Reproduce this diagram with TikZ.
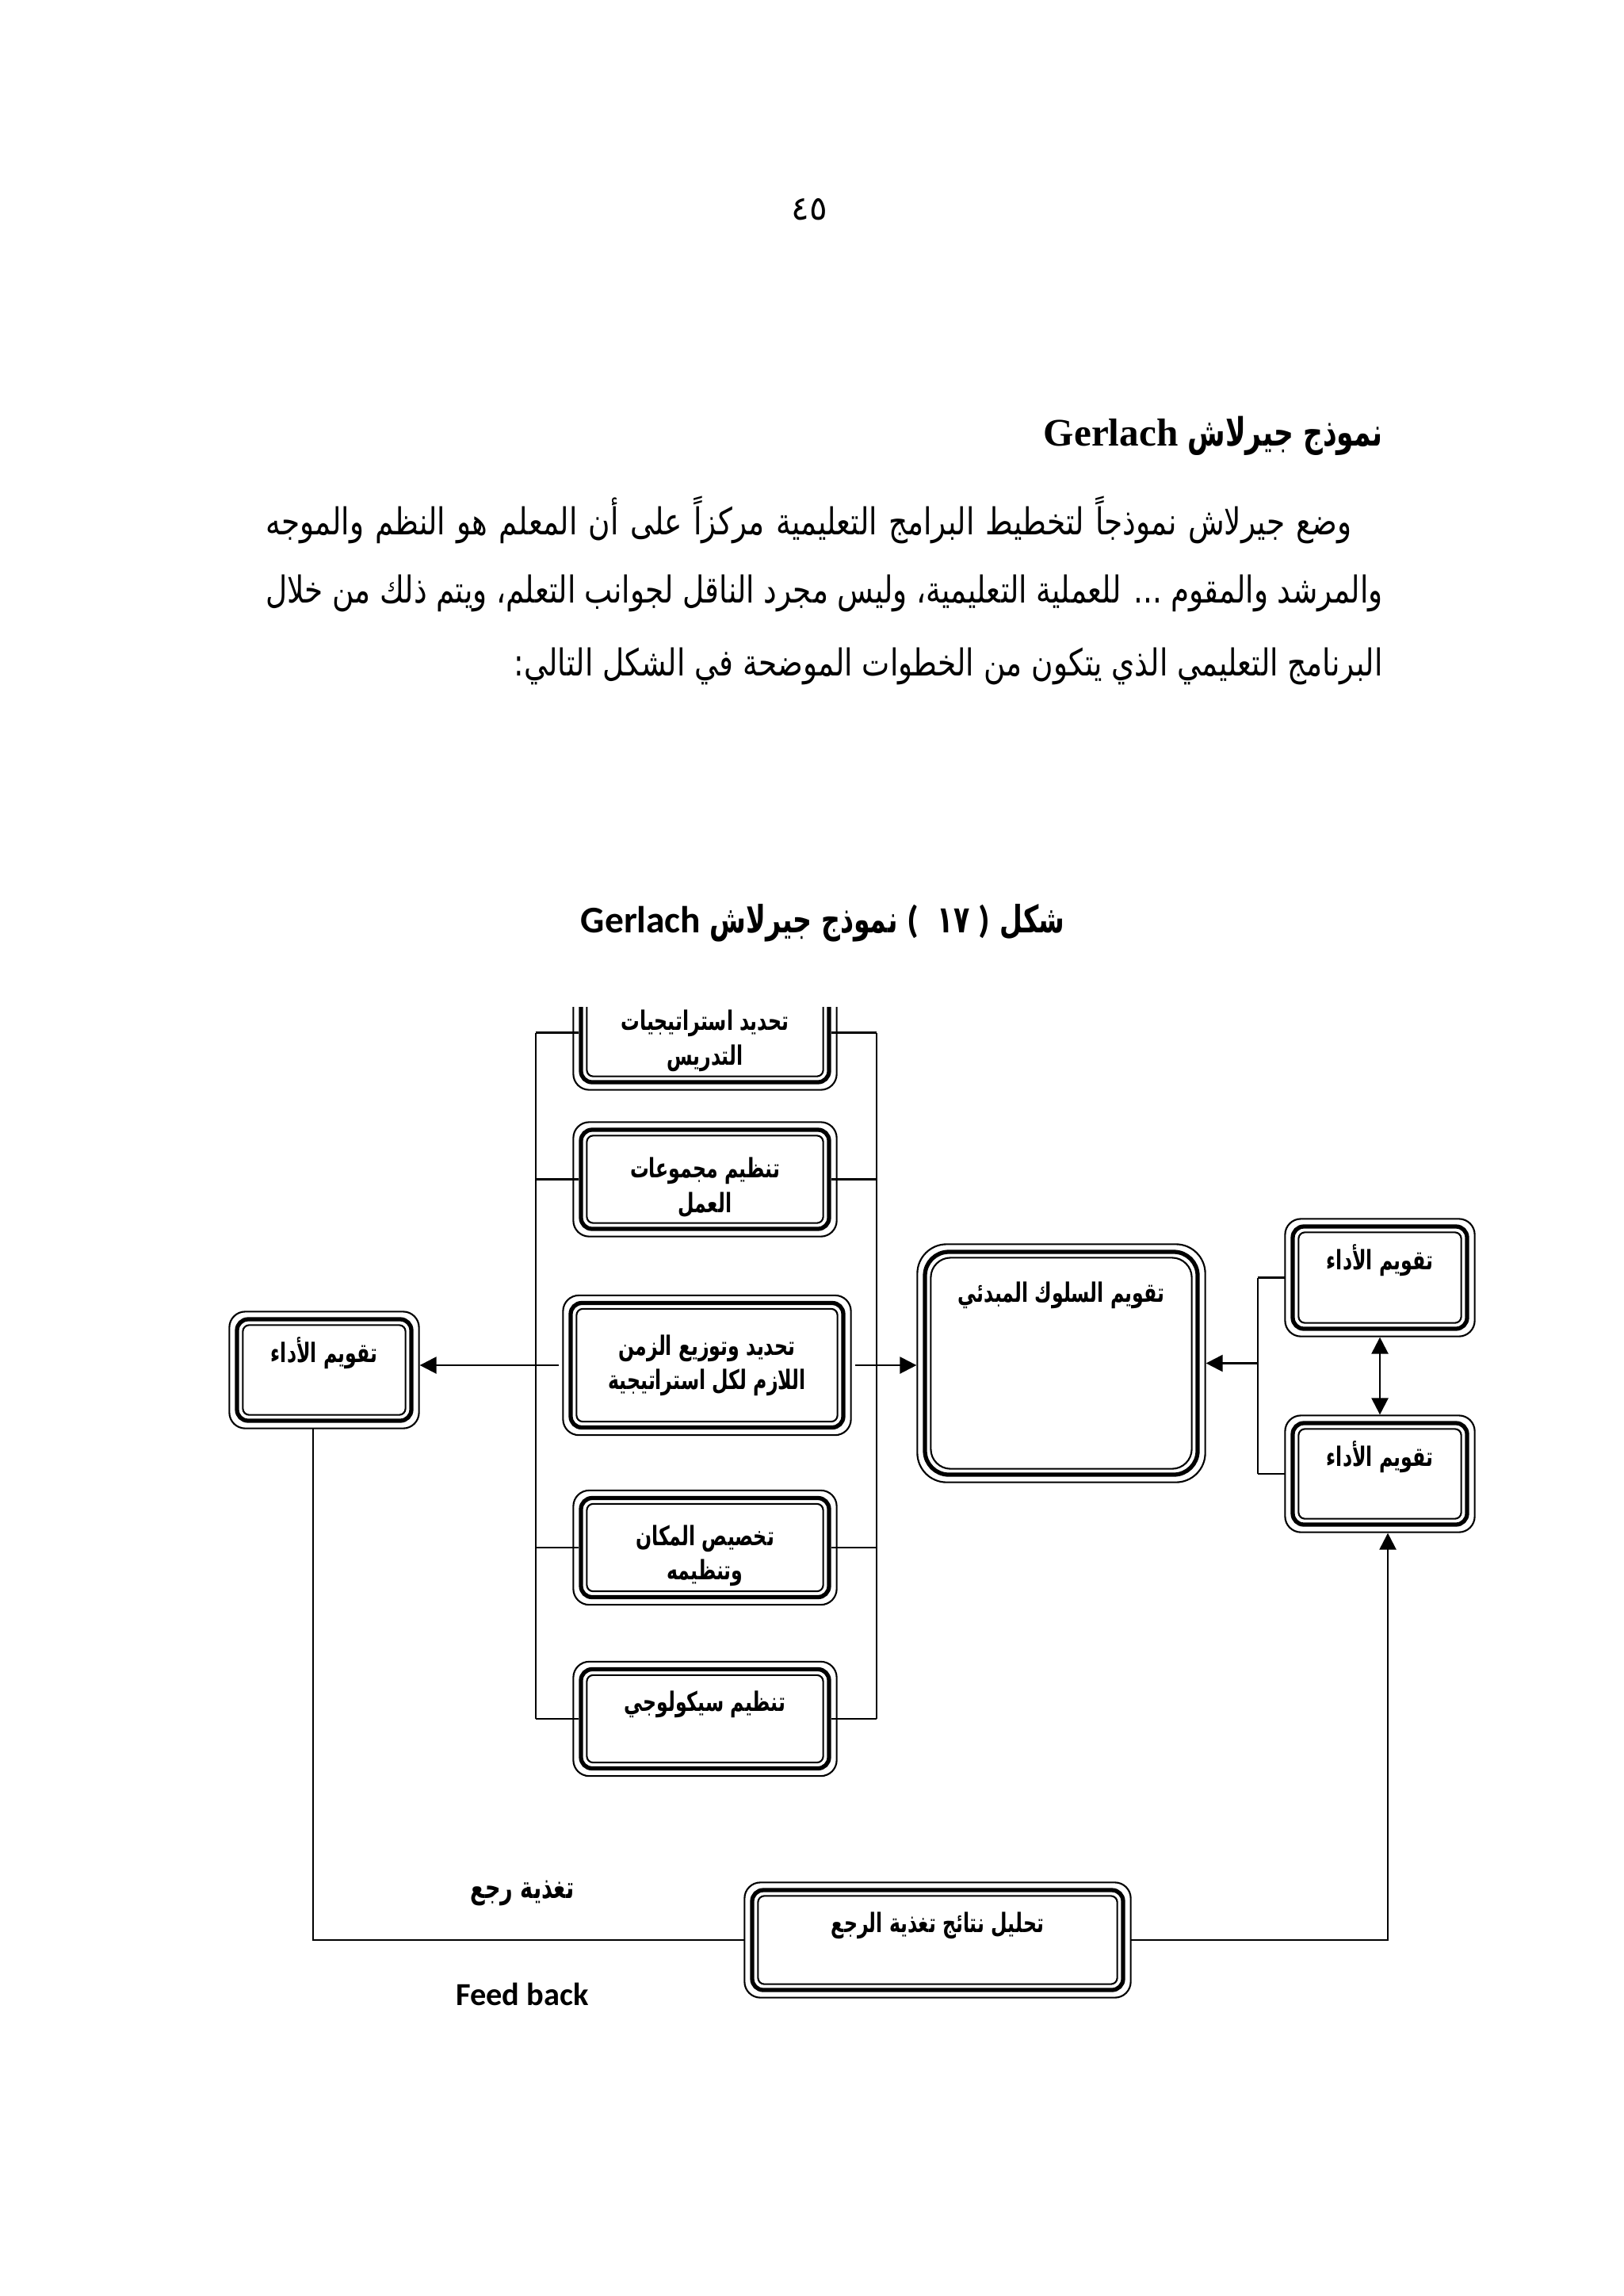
\documentclass[tikz,border=0pt]{standalone}
\usepackage{fontspec}
\usetikzlibrary{arrows.meta,positioning}
\setmainfont{Liberation Serif}
\newfontfamily\arabicfont[Script=Arabic]{DejaVu Sans}
\newfontfamily\arabicnarrow[Script=Arabic,FakeStretch=0.8]{DejaVu Sans}
\newfontfamily\arabiccond[Script=Arabic,FakeStretch=0.7]{DejaVu Sans}
\newfontfamily\calfont{Carlito}
\TeXXeTstate=1
\newcommand{\arb}[1]{\beginR #1\endR}
\newcommand{\lowstrut}{\rule{0pt}{0.46cm}}

\tikzset{
	stage/.style={draw, line width=1.5pt, rounded corners=0.14cm, inner sep=0pt,
		align=center, font=\arabiccond\bfseries\fontsize{9.6}{12.3}\selectfont},
	oneline/.style={text height=0.35cm, text depth=0.55cm},
	link/.style={line width=0.7pt},
	arr/.style={link, -{Triangle[length=6pt,width=6pt]}},
	arrboth/.style={link, {Triangle[length=6pt,width=6pt]}-{Triangle[length=6pt,width=6pt]}},
	para/.style={inner sep=0pt, font=\arabicnarrow\fontsize{13.3}{16}\selectfont},
}

\begin{document}
\begin{tikzpicture}
	\fill[white] (0,0) rectangle (20.48,-28.96);
	\useasboundingbox (0,0) rectangle (20.48,-28.96);
	%%%%%%%%%%%%%%%%% page text %%%%%%%%%%%%%%%%%%%
	\node[inner sep=0pt, font=\arabicfont\fontsize{12}{14}\selectfont] (pg) at (10.21,-2.64) {٤٥};
	\node[anchor=east, inner sep=0pt, font=\bfseries\fontsize{14}{17}\selectfont] (head) at (17.45,-5.50)
	{\beginR{\arabiccond نموذج جيرلاش} \beginL Gerlach\endL\endR};
	
	\node[para, anchor=east] (l1) at (17.06,-6.56) {\makebox[13.70cm][s]{\arb{وضع جيرلاش نموذجاً لتخطيط البرامج التعليمية مركزاً على أن المعلم هو النظم والموجه}}};
	\node[para, anchor=east] (l2) at (17.45,-7.48) {\makebox[14.09cm][s]{\arb{والمرشد والمقوم ... للعملية التعليمية، وليس مجرد الناقل لجوانب التعلم، ويتم ذلك من خلال}}};
	\node[para, anchor=east] (l3) at (17.45,-8.40) {\arb{البرنامج التعليمي الذي يتكون من الخطوات الموضحة في الشكل التالي:}};
	
	\node[inner sep=0pt, font=\bfseries\fontsize{13.5}{17}\selectfont] (cap) at (10.38,-11.64)
	{\beginR{\arabiccond شكل} \beginL{\calfont (}\ \ \arb{\arabiccond ١٧}\ {\calfont )}\endL{} \arb{\arabiccond نموذج جيرلاش} \beginL{\calfont Gerlach}\endL\endR};
	
	%%%%%%%%%%%%%%%%% stages %%%%%%%%%%%%%%%%%%%%%%
	% first stage is cut at its top
	\begin{scope}
		\clip (6.5,-12.70) rectangle (11.5,-14.2);
		\node[stage, minimum width=3.13cm, minimum height=1.25cm] (b1) at (8.895,-13.025)
		{\lowstrut\arb{تحديد استراتيجيات}\\ \arb{التدريس}};
		\draw[line width=0.6pt, rounded corners=0.2cm] ([shift={(-0.07,-0.07)}]b1.south west) rectangle ([shift={(0.07,0.07)}]b1.north east);
		\draw[line width=0.6pt, rounded corners=0.08cm] ([shift={(0.1,0.1)}]b1.south west) rectangle ([shift={(-0.1,-0.1)}]b1.north east);
	\end{scope}
	
	\node[stage, minimum width=3.13cm, minimum height=1.25cm] (b2) at (8.895,-14.875)
	{\lowstrut\arb{تنظيم مجموعات}\\ \arb{العمل}};
	\node[stage, minimum width=3.44cm, minimum height=1.57cm] (b3) at (8.92,-17.22)
	{\arb{تحديد وتوزيع الزمن}\\ \arb{اللازم لكل استراتيجية}};
	\node[stage, minimum width=3.13cm, minimum height=1.25cm] (b4) at (8.895,-19.52)
	{\lowstrut\arb{تخصيص المكان}\\ \arb{وتنظيمه}};
	\node[stage, oneline, minimum width=3.13cm, minimum height=1.25cm] (b5) at (8.895,-21.68)
	{\arb{تنظيم سيكولوجي}};
	
	\node[stage, oneline, minimum width=2.20cm, minimum height=1.28cm] (ev) at (4.09,-17.28)
	{\arb{تقويم الأداء}};
	\node[stage, rounded corners=0.3cm, text height=0.35cm, text depth=1.9cm,
	minimum width=3.44cm, minimum height=2.81cm] (init) at (13.39,-17.195)
	{\arb{تقويم السلوك المبدئي}};
	\node[stage, oneline, minimum width=2.20cm, minimum height=1.29cm] (rt) at (17.41,-16.115)
	{\arb{تقويم الأداء}};
	\node[stage, oneline, minimum width=2.20cm, minimum height=1.28cm] (rb) at (17.41,-18.59)
	{\arb{تقويم الأداء}};
	\node[stage, oneline, minimum width=4.68cm, minimum height=1.26cm] (fb) at (11.83,-24.47)
	{\arb{تحليل نتائج تغذية الرجع}};
	
	% outer and inner rings of every stage
	\foreach \n/\r in {b2/0.2,b3/0.2,b4/0.2,b5/0.2,ev/0.2,rt/0.2,rb/0.2,fb/0.2,init/0.37}{
		\draw[line width=0.6pt, rounded corners=\r cm] ([shift={(-0.07,-0.07)}]\n.south west) rectangle ([shift={(0.07,0.07)}]\n.north east);
		\draw[line width=0.6pt, rounded corners=\r cm-0.12cm] ([shift={(0.1,0.1)}]\n.south west) rectangle ([shift={(-0.1,-0.1)}]\n.north east);
	}
	
	%%%%%%%%%%%%%%%%% buses %%%%%%%%%%%%%%%%%%%%%%%
	\coordinate (lt) at (6.76,-13.025);
	\coordinate (lb) at (6.76,-21.68);
	\coordinate (rtop) at (11.06,-13.025);
	\coordinate (rbot) at (11.06,-21.68);
	\draw[link] (lt) -- (lb);
	\draw[link] (rtop) -- (rbot);
	\foreach \n in {b1,b2,b4,b5}
	{\draw[link] (\n.west -| lt) -- (\n.west); \draw[link] (\n.east) -- (\n.east -| rtop);}
	
	%%%%%%%%%%%%%%%%% arrows %%%%%%%%%%%%%%%%%%%%%%
	\draw[arr] ([xshift=-0.12cm]b3.west) -- ([xshift=0.08cm]b3.west -| ev.east);
	\draw[arr] ([xshift=0.12cm]b3.east) -- ([xshift=-0.08cm]b3.east -| init.west);
	
	\coordinate (br) at (15.87,-17.18);
	\draw[link] (rt.west -| br) -- (rb.west -| br);
	\foreach \n in {rt,rb} {\draw[link] (\n.west -| br) -- ([xshift=-0.07cm]\n.west);}
	\draw[arr] (init.east -| br) -- ([xshift=0.08cm]init.east);
	\draw[arrboth] ([yshift=-0.08cm]rt.south) -- ([yshift=0.08cm]rb.north);
	
	%%%%%%%%%%%%%%%%% feedback loop %%%%%%%%%%%%%%%%
	\coordinate (fl) at (3.95,-24.47);
	\coordinate (fr) at (17.51,-24.47);
	\draw[link] ([yshift=-0.07cm]ev.south -| fl) -- (fl) -- ([xshift=-0.07cm]fb.west);
	\draw[arr] ([xshift=0.07cm]fb.east) -- (fr) -- ([yshift=-0.08cm]rb.south -| fr);
	
	\node[inner sep=0pt, font=\arabiccond\bfseries\fontsize{11}{13}\selectfont] (fbar) at (6.59,-23.88) {\arb{تغذية رجع}};
	\node[inner sep=0pt, font=\calfont\bfseries\fontsize{11.5}{14}\selectfont] (fben) at (6.59,-25.15) {Feed back};
\end{tikzpicture}
\end{document}
